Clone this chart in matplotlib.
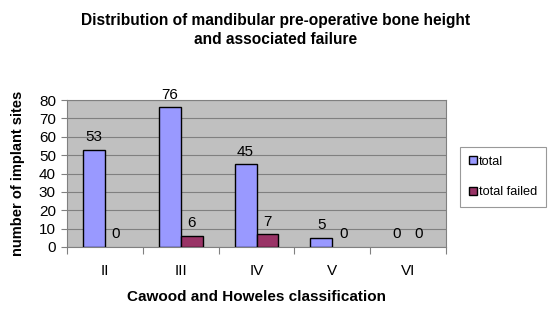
import matplotlib.pyplot as plt
import numpy as np

plt.rcParams['font.family'] = ['Liberation Sans', 'DejaVu Sans']

categories = ['II', 'III', 'IV', 'V', 'VI']
total = [53, 76, 45, 5, 0]
total_failed = [0, 6, 7, 0, 0]

fig = plt.figure(figsize=(5.51, 3.11), dpi=100)
ax = fig.add_axes([67 / 551, 1 - 247 / 311, 379 / 551, 147 / 311])
ax.set_facecolor('#C0C0C0')

x = np.arange(len(categories))
w = 0.29
b1 = ax.bar(x - w / 2, total, w, color='#9999FF', edgecolor='black',
            linewidth=[1 if v else 0 for v in total], label='total', zorder=3)
b2 = ax.bar(x + w / 2, total_failed, w, color='#993366', edgecolor='black',
            linewidth=[1 if v else 0 for v in total_failed], label='total failed', zorder=3)

for rect, v in zip(b1, total):
    ax.text(rect.get_x() + rect.get_width() / 2, v + 3, str(v), ha='center', va='bottom', fontsize=11)
for rect, v in zip(b2, total_failed):
    ax.text(rect.get_x() + rect.get_width() / 2, v + 3, str(v), ha='center', va='bottom', fontsize=11)

ax.set_xlim(-0.5, len(categories) - 0.5)
ax.set_ylim(0, 80)
ax.set_yticks(range(0, 81, 10))
ax.yaxis.grid(True, color='#808080', linewidth=0.8, zorder=0)
ax.set_xticks(np.arange(-0.5, len(categories), 1))
ax.set_xticklabels([])
ax.set_xticks(x, minor=True)
ax.set_xticklabels(categories, minor=True)
ax.tick_params(axis='x', which='minor', length=0, pad=12, labelsize=11)
ax.tick_params(axis='x', which='major', length=5, color='#808080')
ax.tick_params(axis='y', length=4, color='#808080', labelsize=11, pad=4)
for s in ax.spines.values():
    s.set_color('#808080')

ax.set_ylabel('number of implant sites', fontsize=10.5, fontweight='bold', labelpad=10)
ax.set_xlabel('Cawood and Howeles classification', fontsize=11, fontweight='bold', labelpad=9)

fig.text(0.5, 1 - 30 / 311, 'Distribution of mandibular pre-operative bone height\nand associated failure',
         ha='center', va='center', fontsize=11.2, fontweight='bold', linespacing=1.4)

leg = fig.legend(loc='upper left', bbox_to_anchor=(460 / 551, 1 - 147 / 311), fontsize=9.2,
                 frameon=True, fancybox=False, edgecolor='#808080', handlelength=0.6, handleheight=0.6,
                 handletextpad=0.2, borderpad=0.7, labelspacing=1.45, borderaxespad=0)
leg.get_frame().set_linewidth(0.8)
for h in leg.legend_handles:
    h.set_edgecolor('black')
    h.set_linewidth(1)

fig.savefig('out.png', dpi=100)
